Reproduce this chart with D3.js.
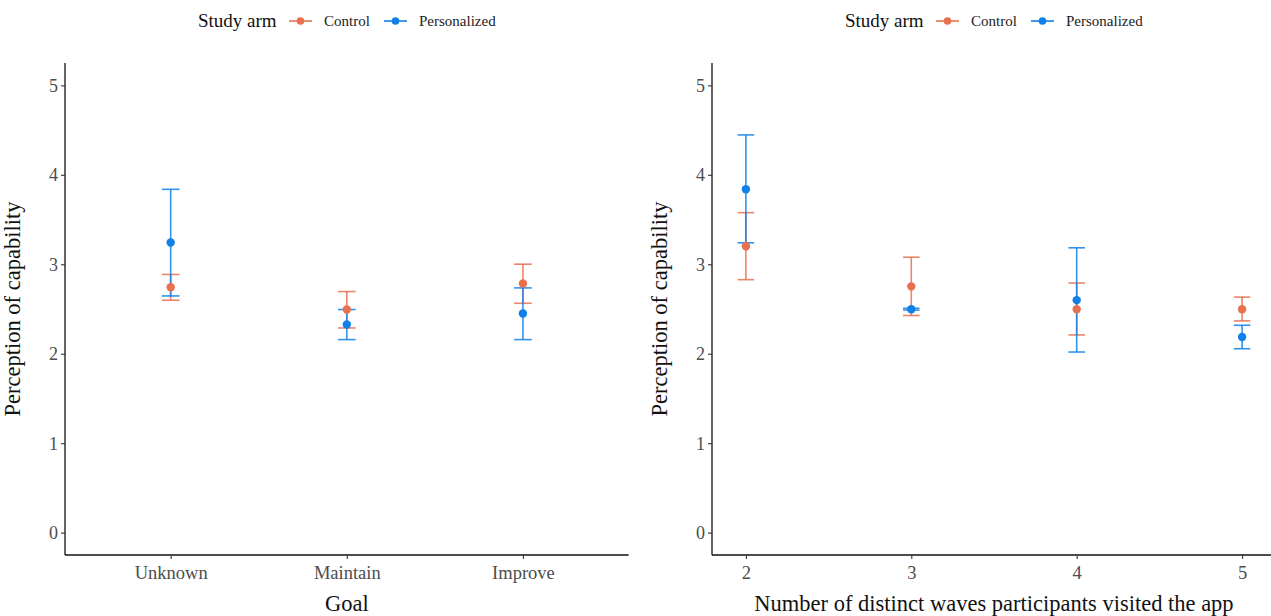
<!DOCTYPE html>
<html>
<head>
<meta charset="utf-8">
<script src="https://cdn.jsdelivr.net/npm/d3@7"></script>
<style>
  html, body { margin: 0; padding: 0; background: #fff; }
  svg { display: block; font-family: "Liberation Serif", "DejaVu Serif", serif; }
</style>
</head>
<body>
<svg id="chart" width="1271" height="616"></svg>
<script>
// ---------- data ----------
const arms = ["Control", "Personalized"];
const armColors = ["#E8704F", "#0F80E8"];

const goalCategories = ["Unknown", "Maintain", "Improve"];
const goalControlMean = [2.744, 2.494, 2.785];
const goalControlLow  = [2.598, 2.288, 2.564];
const goalControlHigh = [2.886, 2.695, 3.001];
const goalPersMean = [3.244, 2.326, 2.449];
const goalPersLow  = [2.646, 2.158, 2.158];
const goalPersHigh = [3.838, 2.494, 2.736];

const waves = [2, 3, 4, 5];
const waveControlMean = [3.202, 2.753, 2.498, 2.498];
const waveControlLow  = [2.828, 2.427, 2.210, 2.367];
const waveControlHigh = [3.577, 3.079, 2.790, 2.633];
const wavePersMean = [3.839, 2.498, 2.599, 2.187];
const wavePersLow  = [3.240, 2.488, 2.019, 2.056];
const wavePersHigh = [4.446, 2.508, 3.184, 2.318];

const yTicks = [0, 1, 2, 3, 4, 5];
const yTitle = "Perception of capability";
const legendTitle = "Study arm";

// ---------- helpers ----------
const svg = d3.select("#chart");
const plotTop = 63, plotBottom = 555;
const y = d3.scaleLinear().domain([-0.25, 5.25]).range([plotBottom, plotTop]);
const intFmt = d3.format("d");

function buildRows(xs, cm, cl, ch, pm, pl, ph) {
  const rows = [];
  xs.forEach((x, i) => {
    rows.push({x, arm: 0, mean: cm[i], lo: cl[i], hi: ch[i]});
    rows.push({x, arm: 1, mean: pm[i], lo: pl[i], hi: ph[i]});
  });
  return rows;
}

function drawPanel(g, xScale, xTickVals, xFmt, xTitle, rows, capHalf, left, right) {
  // y axis
  const yAxis = d3.axisLeft(y).tickValues(yTicks).tickFormat(intFmt).tickSize(4).tickPadding(3);
  const ya = g.append("g").attr("transform", `translate(${left},0)`).call(yAxis);
  ya.select(".domain").attr("d", `M0,${plotTop}V${plotBottom}`).attr("stroke", "#111").attr("stroke-width", 1.3);
  ya.selectAll(".tick line").attr("stroke", "#333").attr("stroke-width", 1.1);
  ya.selectAll(".tick text").attr("fill", "#4d4d4d").style("font-size", "18px")
    .style("font-family", "Liberation Serif, serif").attr("dy", "0.33em");

  // x axis
  const xAxis = d3.axisBottom(xScale).tickValues(xTickVals).tickSize(4).tickPadding(5);
  if (xFmt) xAxis.tickFormat(xFmt);
  const xa = g.append("g").attr("transform", `translate(0,${plotBottom})`).call(xAxis);
  xa.select(".domain").attr("d", `M${left},0H${right}`).attr("stroke", "#111").attr("stroke-width", 1.3);
  xa.selectAll(".tick line").attr("stroke", "#333").attr("stroke-width", 1.1);
  xa.selectAll(".tick text").attr("fill", "#4d4d4d").style("font-size", "18.5px")
    .style("font-family", "Liberation Serif, serif").attr("dy", "0.8em");

  // titles
  g.append("text").attr("x", (left + right) / 2).attr("y", 611)
    .attr("text-anchor", "middle").attr("fill", "#111").style("font-size", "22.5px").text(xTitle);
  g.append("text").attr("transform", `translate(${left - 45},${(plotTop + plotBottom) / 2}) rotate(-90)`)
    .attr("text-anchor", "middle").attr("fill", "#111").style("font-size", "22.5px").text(yTitle);

  // error bars
  const eb = g.append("g");
  rows.forEach(d => {
    const cx = xScale(d.x);
    const col = armColors[d.arm];
    eb.append("line").attr("x1", cx).attr("x2", cx).attr("y1", y(d.lo)).attr("y2", y(d.hi))
      .attr("stroke", col).attr("stroke-width", 1.6).attr("stroke-opacity", 0.85);
    [d.lo, d.hi].forEach(v => {
      eb.append("line").attr("x1", cx - capHalf).attr("x2", cx + capHalf).attr("y1", y(v)).attr("y2", y(v))
        .attr("stroke", col).attr("stroke-width", 1.6).attr("stroke-opacity", 0.85);
    });
  });
  // points
  g.append("g").selectAll("circle").data(rows).join("circle")
    .attr("cx", d => xScale(d.x)).attr("cy", d => y(d.mean)).attr("r", 4.2)
    .attr("fill", d => armColors[d.arm]);

  // legend
  const lg = g.append("g").attr("transform", `translate(${left},0)`);
  lg.append("text").attr("x", 133).attr("y", 27).attr("fill", "#111").style("font-size", "19px").text(legendTitle);
  const keyX = [224, 319];
  const labX = [259, 354];
  arms.forEach((a, i) => {
    lg.append("line").attr("x1", keyX[i]).attr("x2", keyX[i] + 23).attr("y1", 21).attr("y2", 21)
      .attr("stroke", armColors[i]).attr("stroke-width", 1.6);
    lg.append("circle").attr("cx", keyX[i] + 11.5).attr("cy", 21).attr("r", 3.8).attr("fill", armColors[i]);
    lg.append("text").attr("x", labX[i]).attr("y", 26).attr("fill", "#222").style("font-size", "15px").text(a);
  });
}

// ---------- left panel ----------
const gL = svg.append("g");
const xL = d3.scalePoint().domain(goalCategories).range([65, 628.6]).padding(0.6);
const rowsL = buildRows(goalCategories, goalControlMean, goalControlLow, goalControlHigh,
                        goalPersMean, goalPersLow, goalPersHigh);
drawPanel(gL, xL, goalCategories, null, "Goal", rowsL, xL.step() * 0.05, 65, 628.6);

// ---------- right panel ----------
const gR = svg.append("g");
const xR = d3.scaleLinear().domain([1.795, 5.205]).range([712, 1276]);
const rowsR = buildRows(waves, waveControlMean, waveControlLow, waveControlHigh,
                        wavePersMean, wavePersLow, wavePersHigh);
drawPanel(gR, xR, waves, intFmt, "Number of distinct waves participants visited the app", rowsR,
          (xR(1) - xR(0)) * 0.05, 712, 1276);
</script>
</body>
</html>
